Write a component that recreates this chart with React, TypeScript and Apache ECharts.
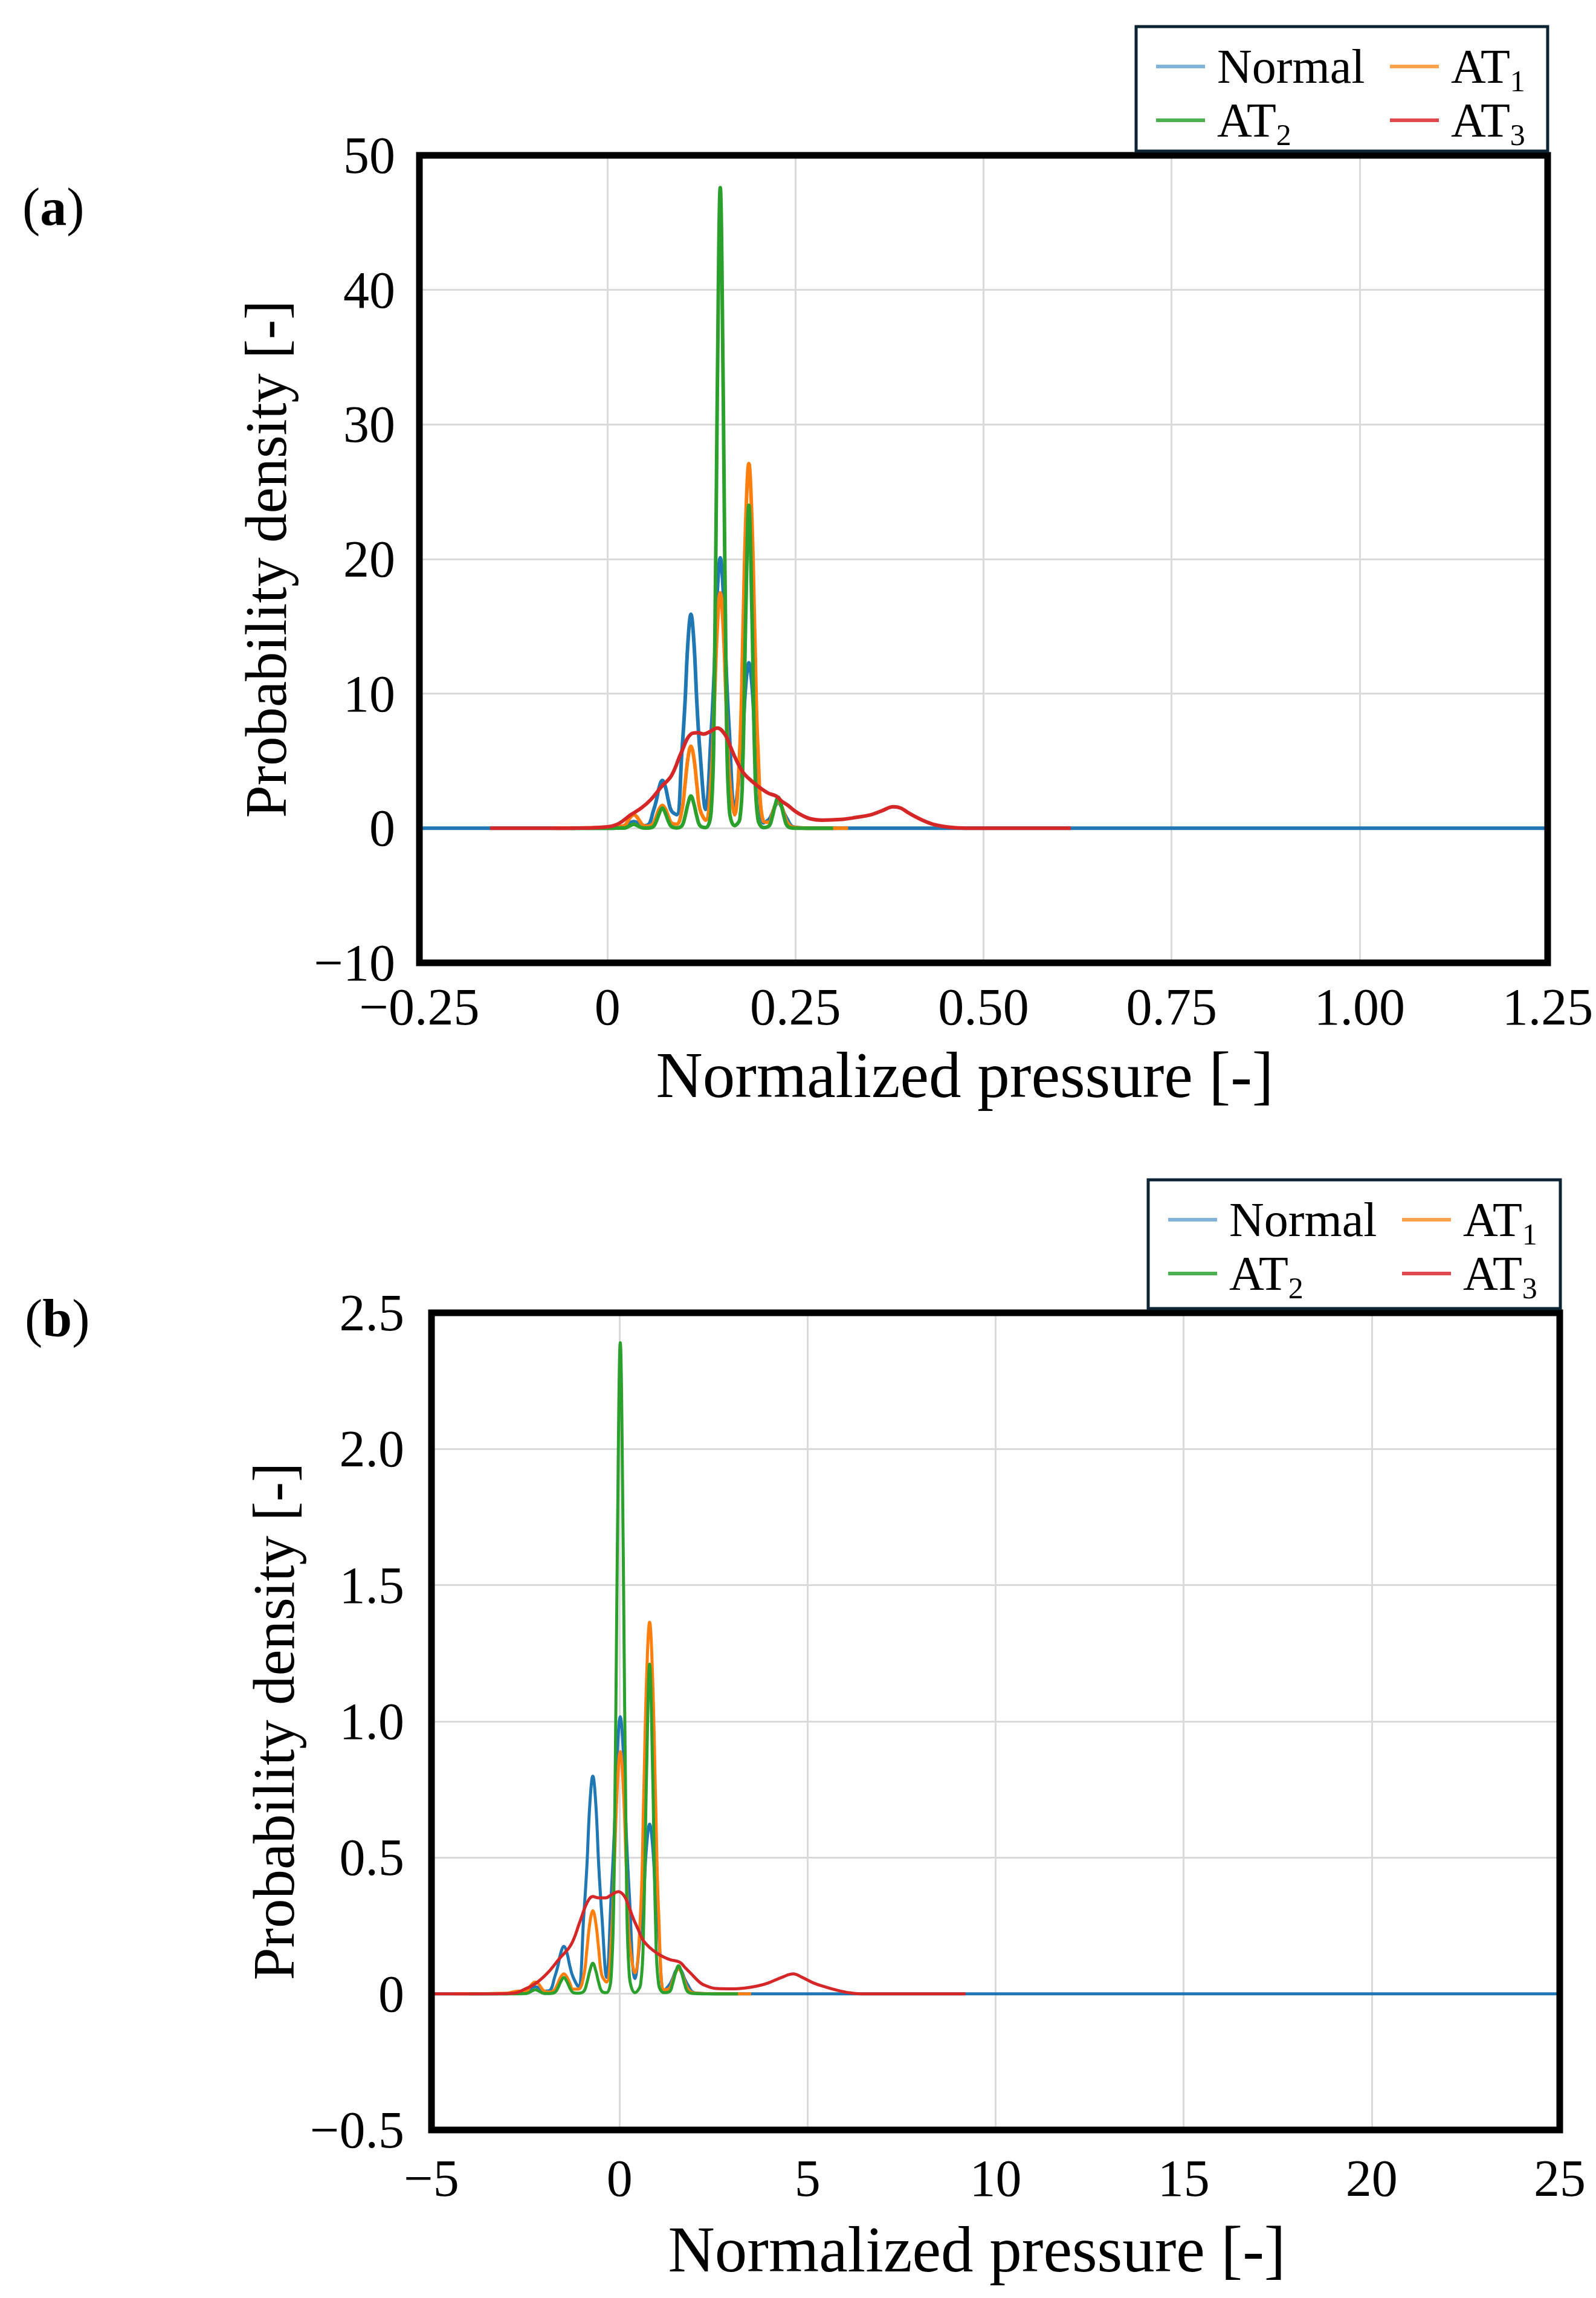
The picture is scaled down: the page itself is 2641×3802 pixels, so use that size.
import { useEffect, useRef } from 'react'
import * as echarts from 'echarts'

const FONT = '"Liberation Serif", "Times New Roman", serif'

const SERIES_NAMES = ['Normal', 'AT1', 'AT2', 'AT3']
const LINE_COLORS = ['#1f77b4', '#ff7f0e', '#2ca02c', '#d62728']
const LEGEND_COLORS = ['#82b3da', '#ffa14d', '#4caf50', '#e04a4f']

// ---- panel (a) ----
const xTicksA = ['−0.25', '0', '0.25', '0.50', '0.75', '1.00', '1.25']
const yTicksA = ['−10', '0', '10', '20', '30', '40', '50']

const coreXA = [
  0.0, 0.012,
  0.023, 0.027, 0.031, 0.035, 0.039, 0.043, 0.047, 0.054,
  0.061, 0.065, 0.069, 0.073, 0.077, 0.081, 0.085, 0.092,
  0.099, 0.103, 0.107, 0.111, 0.115, 0.119, 0.123, 0.1305,
  0.138, 0.142, 0.146, 0.15, 0.154, 0.158, 0.162, 0.169,
  0.176, 0.18, 0.184, 0.188, 0.192, 0.196, 0.2, 0.2075,
  0.215, 0.219, 0.223, 0.227, 0.231, 0.235, 0.239, 0.246,
  0.26, 0.28,
]
const normalA = [
  0, 0.03,
  0.18, 0.29, 0.44, 0.5, 0.44, 0.29, 0.2, 0.25,
  1.28, 2.06, 3.09, 3.55, 3.09, 2.06, 1.3, 1.0,
  5.7, 9.2, 13.8, 15.9, 13.8, 9.2, 5.7, 1.4,
  7.2, 11.7, 17.5, 20.1, 17.5, 11.7, 7.2, 1.4,
  4.4, 7.1, 10.7, 12.3, 10.7, 7.1, 4.4, 0.4,
  0.68, 1.1, 1.65, 1.9, 1.65, 1.1, 0.68, 0.12,
  0.02, 0,
]
const at1A = [
  0.05, 0.08,
  0.22, 0.52, 0.85, 1.0, 0.85, 0.52, 0.24, 0.15,
  0.37, 0.88, 1.45, 1.7, 1.45, 0.88, 0.4, 0.3,
  1.34, 3.17, 5.19, 6.1, 5.19, 3.17, 1.4, 0.6,
  3.85, 9.1, 14.9, 17.5, 14.9, 9.1, 3.9, 1.0,
  5.96, 14.1, 23.0, 27.1, 23.0, 14.1, 6.0, 0.5,
  0.44, 1.04, 1.7, 2.0, 1.7, 1.04, 0.44, 0.08,
  0.02, 0,
]
const at2A = [
  0, 0.01,
  0.02, 0.1, 0.22, 0.3, 0.22, 0.1, 0.03, 0.02,
  0.12, 0.52, 1.12, 1.5, 1.12, 0.52, 0.13, 0.03,
  0.19, 0.84, 1.8, 2.4, 1.8, 0.84, 0.2, 0.05,
  1.33, 9.8, 32.1, 47.6, 32.1, 9.8, 1.4, 0.2,
  0.67, 4.9, 16.2, 24.0, 16.2, 4.9, 0.7, 0.05,
  0.18, 0.8, 1.72, 2.3, 1.72, 0.8, 0.18, 0.02,
  0, 0,
]
const normalSpanA = [-0.25, 1.25]
const at1SpanA = [-0.07, 0.32]
const at2SpanA = [-0.05, 0.3]
const at3XA = [
  -0.156, -0.05, 0.0, 0.015, 0.031, 0.045, 0.058, 0.072, 0.085, 0.098,
  0.111, 0.12, 0.128, 0.137, 0.146, 0.157, 0.164, 0.171, 0.181, 0.192,
  0.203, 0.214, 0.224, 0.232, 0.24, 0.25, 0.259, 0.27, 0.285, 0.31,
  0.33, 0.35, 0.365, 0.38, 0.39, 0.4, 0.415, 0.43, 0.445, 0.46,
  0.48, 0.616,
]
const at3YA = [
  0, 0, 0.1, 0.35, 1.0, 1.5, 2.15, 3.1, 3.9, 5.6,
  7.0, 7.1, 7.0, 7.2, 7.45, 6.9, 6.0, 5.1, 4.1, 3.5,
  3.0, 2.6, 2.4, 2.0, 1.7, 1.25, 0.95, 0.7, 0.6, 0.65,
  0.8, 1.0, 1.3, 1.6, 1.5, 1.15, 0.7, 0.35, 0.15, 0.05,
  0, 0,
]

// ---- panel (b) ----
const xTicksB = ['−5', '0', '5', '10', '15', '20', '25']
const yTicksB = ['−0.5', '0', '0.5', '1.0', '1.5', '2.0', '2.5']

const coreXB = [
  -3.0, -2.7,
  -2.48, -2.4, -2.32, -2.24, -2.16, -2.08, -2.0, -1.86,
  -1.72, -1.64, -1.56, -1.48, -1.4, -1.32, -1.24, -1.095,
  -0.95, -0.87, -0.79, -0.71, -0.63, -0.55, -0.47, -0.345,
  -0.22, -0.14, -0.06, 0.02, 0.1, 0.18, 0.26, 0.41,
  0.56, 0.64, 0.72, 0.8, 0.88, 0.96, 1.04, 1.185,
  1.33, 1.41, 1.49, 1.57, 1.65, 1.73, 1.81, 1.96,
  2.2, 2.6,
]
const normalB = [
  0, 0.003,
  0.009, 0.015, 0.023, 0.026, 0.023, 0.015, 0.01, 0.012,
  0.063, 0.101, 0.151, 0.174, 0.151, 0.101, 0.063, 0.026,
  0.288, 0.463, 0.695, 0.799, 0.695, 0.463, 0.288, 0.06,
  0.366, 0.59, 0.885, 1.017, 0.885, 0.59, 0.366, 0.056,
  0.224, 0.361, 0.542, 0.623, 0.542, 0.361, 0.224, 0.012,
  0.034, 0.055, 0.083, 0.095, 0.083, 0.055, 0.034, 0.005,
  0.001, 0,
]
const at1B = [
  0.002, 0.01,
  0.009, 0.022, 0.037, 0.043, 0.037, 0.022, 0.01, 0.006,
  0.016, 0.038, 0.062, 0.073, 0.062, 0.038, 0.017, 0.017,
  0.067, 0.159, 0.259, 0.305, 0.259, 0.159, 0.068, 0.043,
  0.196, 0.462, 0.756, 0.889, 0.756, 0.462, 0.2, 0.077,
  0.3, 0.709, 1.159, 1.364, 1.159, 0.709, 0.3, 0.015,
  0.02, 0.047, 0.077, 0.09, 0.077, 0.047, 0.02, 0.003,
  0.001, 0,
]
const at2B = [
  0, 0,
  0.001, 0.005, 0.011, 0.015, 0.011, 0.005, 0.001, 0.001,
  0.005, 0.021, 0.045, 0.06, 0.045, 0.021, 0.005, 0.002,
  0.009, 0.039, 0.084, 0.112, 0.084, 0.039, 0.009, 0.004,
  0.067, 0.49, 1.61, 2.39, 1.61, 0.49, 0.067, 0.004,
  0.034, 0.25, 0.816, 1.21, 0.816, 0.25, 0.034, 0.004,
  0.008, 0.036, 0.077, 0.103, 0.077, 0.036, 0.008, 0.001,
  0, 0,
]
const normalSpanB = [-5, 25]
const at1SpanB = [-4.4, 3.5]
const at2SpanB = [-4.0, 3.15]
const at3XB = [
  -5.0, -3.5, -2.83, -2.52, -2.22, -1.91, -1.6, -1.29, -1.05, -0.86,
  -0.71, -0.55, -0.37, -0.2, -0.03, 0.12, 0.25, 0.37, 0.5, 0.62,
  0.8, 0.985, 1.17, 1.35, 1.6, 1.75, 1.91, 2.07, 2.22, 2.59,
  3.0, 3.33, 3.65, 3.94, 4.31, 4.62, 4.86, 5.17, 5.5, 5.79,
  6.1, 6.4, 9.2,
]
const at3YB = [
  0, 0, 0.002, 0.017, 0.039, 0.077, 0.129, 0.18, 0.266, 0.335,
  0.357, 0.352, 0.352, 0.365, 0.375, 0.36, 0.32, 0.275, 0.235, 0.198,
  0.17, 0.15, 0.135, 0.125, 0.116, 0.095, 0.073, 0.05, 0.034, 0.019,
  0.018, 0.021, 0.028, 0.039, 0.06, 0.073, 0.06, 0.039, 0.024, 0.013,
  0.004, 0, 0,
]

const curve = (xs: number[], ys: number[], span: number[]) => [
  [span[0], 0],
  ...xs.map((x, i) => [x, ys[i]]),
  [span[1], 0],
]
const pairs = (xs: number[], ys: number[]) => xs.map((x, i) => [x, ys[i]])

const panels = [
  {
    label: 'a',
    labelPos: [37, 342],
    grid: { left: 694, top: 257, width: 1867, height: 1336 },
    x: { min: -0.25, max: 1.25, interval: 0.25, ticks: xTicksA, margin: 41, nameGap: 132 },
    y: { min: -10, max: 50, interval: 10, ticks: yTicksA, margin: 40, nameGap: 205 },
    legendBox: [1880, 44, 681, 206],
    legendCols: [1913, 2300],
    legendRows: [110, 199],
    lineWidth: 6,
    data: [
      curve(coreXA, normalA, normalSpanA),
      curve(coreXA, at1A, at1SpanA),
      curve(coreXA, at2A, at2SpanA),
      pairs(at3XA, at3YA),
    ],
  },
  {
    label: 'b',
    labelPos: [41, 2181],
    grid: { left: 714, top: 2172, width: 1867, height: 1352 },
    x: { min: -5, max: 25, interval: 5, ticks: xTicksB, margin: 48, nameGap: 144 },
    y: { min: -0.5, max: 2.5, interval: 0.5, ticks: yTicksB, margin: 45, nameGap: 200 },
    legendBox: [1900, 1952, 682, 213],
    legendCols: [1933, 2320],
    legendRows: [2018, 2107],
    lineWidth: 5,
    data: [
      curve(coreXB, normalB, normalSpanB),
      curve(coreXB, at1B, at1SpanB),
      curve(coreXB, at2B, at2SpanB),
      pairs(at3XB, at3YB),
    ],
  },
]

const TICK_FONT = 86
const TICK_LINE_HEIGHT = 64
const LEGEND_LINE_HEIGHT = 98

const legendText = {
  fontFamily: FONT,
  fontSize: 80,
  lineHeight: LEGEND_LINE_HEIGHT,
  color: '#000',
  padding: [0, 0, 0, 15],
  rich: {
    m: { fontFamily: FONT, fontSize: 80, lineHeight: 80, verticalAlign: 'middle', color: '#000' },
    s: { fontFamily: FONT, fontSize: 50, lineHeight: LEGEND_LINE_HEIGHT, verticalAlign: 'bottom', color: '#000' },
  },
}

// legend slots: [series index, column, row]
const legendSlots = [
  [0, 0, 0],
  [1, 1, 0],
  [2, 0, 1],
  [3, 1, 1],
]

function buildOption() {
  const grid: any[] = []
  const xAxis: any[] = []
  const yAxis: any[] = []
  const series: any[] = []
  const legend: any[] = []
  const graphic: any[] = []

  panels.forEach((p, k) => {
    grid.push({
      ...p.grid,
      show: true,
      borderColor: '#000',
      borderWidth: 11,
      backgroundColor: 'transparent',
      z: 3,
    })
    const split = {
      show: true,
      showMinLine: false,
      showMaxLine: false,
      lineStyle: { color: '#dadada', width: 3 },
    }
    xAxis.push({
      type: 'value',
      gridIndex: k,
      min: p.x.min,
      max: p.x.max,
      interval: p.x.interval,
      axisLine: { show: false },
      axisTick: { show: false },
      splitLine: split,
      axisLabel: {
        fontFamily: FONT,
        fontSize: TICK_FONT,
        lineHeight: TICK_LINE_HEIGHT,
        color: '#000',
        margin: p.x.margin,
        showMinLabel: true,
        showMaxLabel: true,
        formatter: (v: number) => p.x.ticks[Math.round((v - p.x.min) / p.x.interval)],
      },
      name: 'Normalized pressure [-]',
      nameLocation: 'middle',
      nameGap: p.x.nameGap,
      nameTextStyle: { fontFamily: FONT, fontSize: 107, color: '#000', padding: [0, 62, 0, 0] },
    })
    yAxis.push({
      type: 'value',
      gridIndex: k,
      min: p.y.min,
      max: p.y.max,
      interval: p.y.interval,
      axisLine: { show: false },
      axisTick: { show: false },
      splitLine: split,
      axisLabel: {
        fontFamily: FONT,
        fontSize: TICK_FONT,
        lineHeight: TICK_LINE_HEIGHT,
        color: '#000',
        margin: p.y.margin,
        showMinLabel: true,
        showMaxLabel: true,
        formatter: (v: number) => p.y.ticks[Math.round((v - p.y.min) / p.y.interval)],
      },
      name: 'Probability density [-]',
      nameLocation: 'middle',
      nameGap: p.y.nameGap,
      nameTextStyle: { fontFamily: FONT, fontSize: 97, color: '#000' },
    })

    SERIES_NAMES.forEach((name, i) => {
      series.push({
        type: 'line',
        name,
        xAxisIndex: k,
        yAxisIndex: k,
        data: p.data[i],
        smooth: 0.4,
        symbol: 'none',
        showSymbol: false,
        clip: true,
        lineStyle: { width: p.lineWidth, color: LINE_COLORS[i] },
        itemStyle: { color: LINE_COLORS[i] },
        z: 2,
      })
    })

    legendSlots.forEach(([i, col, row]) => {
      legend.push({
        orient: 'horizontal',
        left: p.legendCols[col],
        top: p.legendRows[row] - LEGEND_LINE_HEIGHT / 2,
        padding: 0,
        itemWidth: 81,
        itemHeight: 6,
        icon: 'rect',
        selectedMode: false,
        z: 5,
        data: [{ name: SERIES_NAMES[i], itemStyle: { color: LEGEND_COLORS[i] } }],
        formatter: (name: string) => (name === 'Normal' ? name : `{m|AT}{s|${name.slice(2)}}`),
        textStyle: legendText,
      })
    })

    const [bx, by, bw, bh] = p.legendBox
    graphic.push({
      type: 'rect',
      shape: { x: bx, y: by, width: bw, height: bh },
      style: { fill: '#fff', stroke: '#0d2435', lineWidth: 5 },
      z: 3,
    })
    graphic.push({
      type: 'text',
      x: p.labelPos[0],
      y: p.labelPos[1],
      style: {
        text: `{p|(}{b|${p.label}}{p|)}`,
        align: 'left',
        verticalAlign: 'middle',
        rich: {
          p: { fontFamily: FONT, fontSize: 88, color: '#000' },
          b: { fontFamily: FONT, fontSize: 88, fontWeight: 'bold', color: '#000' },
        },
      },
      z: 5,
    })
  })

  return {
    animation: false,
    backgroundColor: '#fff',
    grid,
    xAxis,
    yAxis,
    series,
    legend,
    graphic,
  }
}

export default function App() {
  const chartRef = useRef<HTMLDivElement>(null)

  useEffect(() => {
    if (!chartRef.current) return
    const chart = echarts.init(chartRef.current, undefined, { renderer: 'svg' })
    chart.setOption(buildOption())
    return () => {
      chart.dispose()
    }
  }, [])

  return (
    <div
      ref={chartRef}
      style={{ position: 'absolute', left: 0, top: 0, width: 2641, height: 3802, background: '#fff' }}
    />
  )
}
